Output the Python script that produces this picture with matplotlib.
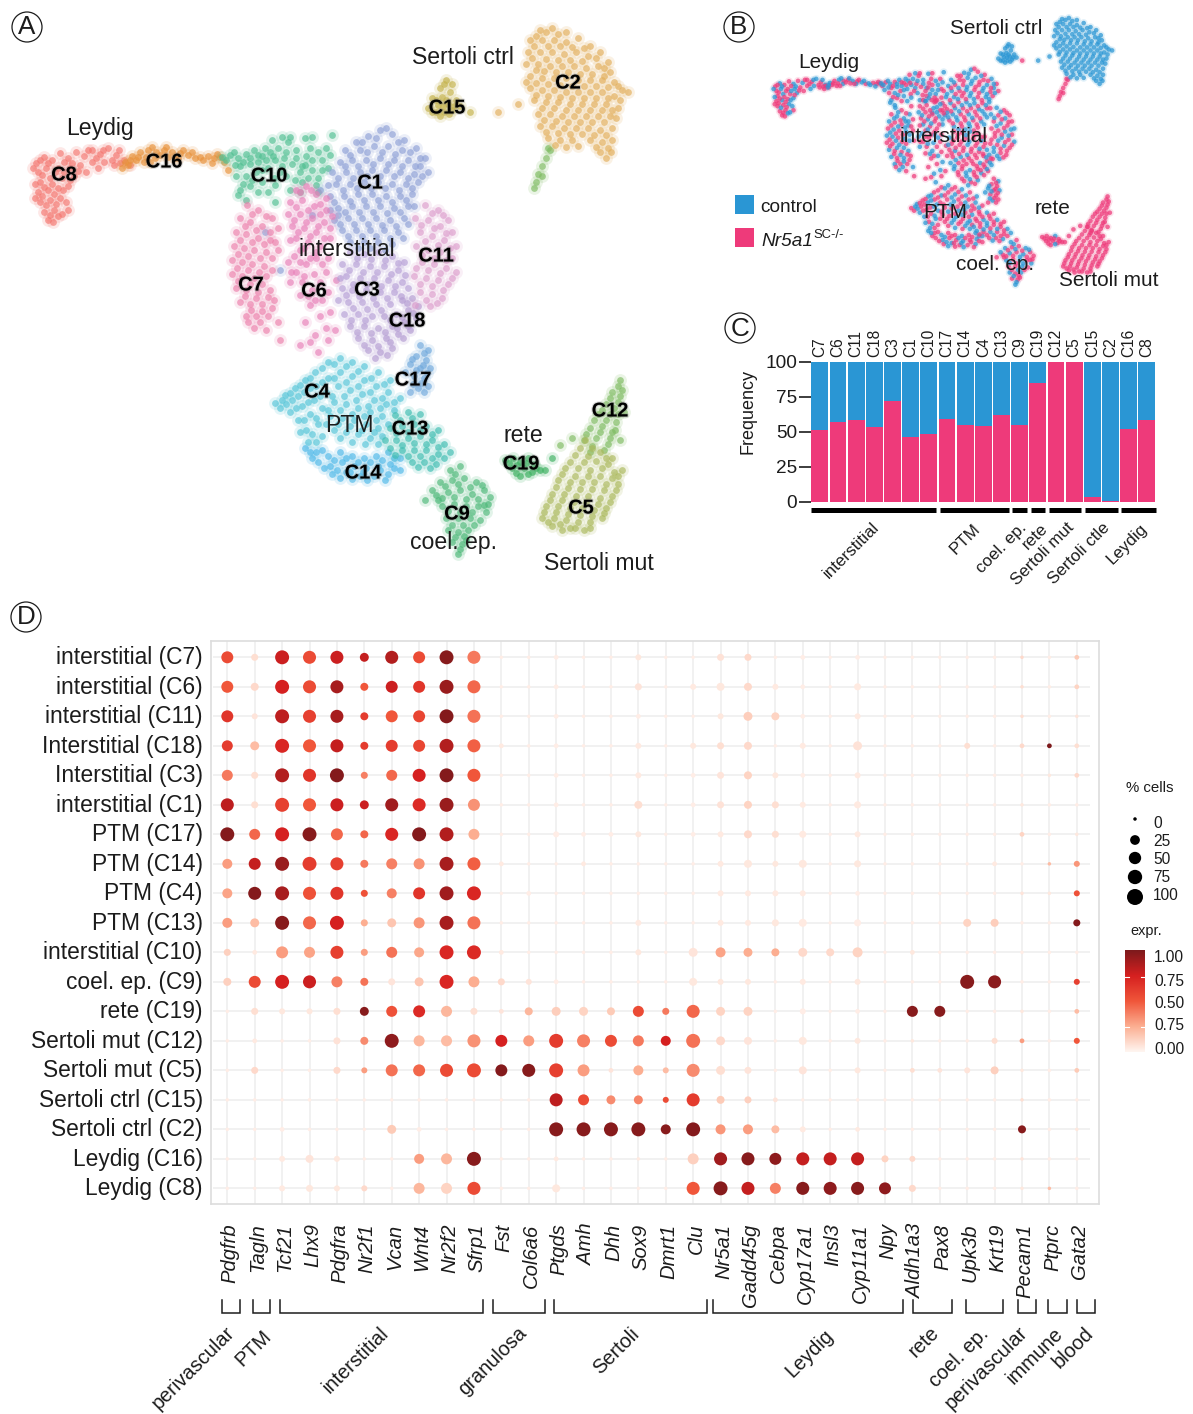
import numpy as np
import matplotlib
matplotlib.use('Agg')
import matplotlib.pyplot as plt
import matplotlib.patheffects as pe
from matplotlib.colors import LinearSegmentedColormap
from matplotlib.patches import Circle, Rectangle
from matplotlib.transforms import ScaledTranslation

plt.rcParams['font.family'] = ['Liberation Sans', 'DejaVu Sans']

W, H = 1193, 1414
BLUE = '#2a96d4'
PINK = '#ee3a7a'
INK = '#1c1c1c'

# umap points
c8 = [(36,163),(44,157),(52,160),(60,153),(68,158),(76,152),(84,156),(92,150),(100,154),(108,148),(116,155),(124,160),(130,165),(38,172),(46,168),(58,168),(70,168),(80,165),(92,162),(104,162),(114,165),(40,182),(50,178),(62,178),(74,176),(86,172),(38,192),(48,190),(58,188),(68,186),(40,202),(50,200),(60,198),(44,212),(54,210),(66,202),(48,220),(58,216),(68,210),(42,196),
      (33,168),(40,160),(48,163),(55,172),(64,162),(72,163),(88,150),(96,158),(103,150),(112,160),(119,150),(42,175),(52,184),(64,172),(78,171),(35,184),(44,187),(54,194),(63,190),(35,198),(46,205),(56,204),(50,215),(62,214),(53,222),(70,180),(98,168),(120,163)]
c16 = [(125,162),(132,156),(140,152),(148,150),(156,152),(164,150),(172,152),(180,153),(188,155),(195,158),(128,165),(136,160),(146,157),(155,158),(168,157),(178,158),(122,168),(200,157),(208,156),(214,158),(212,163),(220,157),(228,170),(224,162),
       (130,160),(138,157),(144,162),(152,147),(160,155),(166,147),(175,158),(183,150),(192,152),(150,162),(203,160),(217,154)]
c10 = [(222,157),(230,155),(238,158),(246,154),(254,150),(262,156),(270,152),(278,148),(272,140),(282,137),(290,137),(305,138),(312,137),(332,135),(240,166),(250,164),(258,162),(266,160),(275,160),(284,158),(296,158),(306,156),(318,152),(326,148),(246,176),(256,172),(268,168),(282,166),(292,164),(302,166),(312,160),(240,190),(250,186),(262,182),(274,178),(286,176),(300,172),(312,170),(322,160),(236,176),(246,200),(275,202),(290,190),(302,182),(318,178),(328,168),(300,192),(318,192),
       (226,160),(234,152),(243,162),(250,158),(258,155),(265,148),(273,156),(286,152),(280,172),(262,170),(252,180),(243,184),(238,195),(258,192),(296,150),(310,148),(308,178),(295,180),(322,170),(330,155),(288,142),(268,192),(305,165),(235,165),(316,185),(275,185)]
c1 = [(380,130),(392,134),(368,136),(404,140),(356,142),(345,150),(360,150),(374,146),(388,146),(402,150),(416,148),(425,158),(340,162),(352,160),(366,160),(380,158),(394,160),(408,160),(420,166),(332,172),(346,172),(360,172),(372,170),(386,170),(400,172),(414,174),(428,172),(336,184),(350,184),(364,182),(378,182),(392,184),(406,184),(418,182),(330,196),(344,196),(358,194),(372,194),(386,196),(400,196),(412,194),(338,208),(352,206),(366,206),(380,206),(394,208),(408,206),(334,220),(348,218),(362,218),(376,218),(390,220),(404,218),(342,230),(356,230),(370,230),(384,230),(398,232),(350,242),(364,242),(378,242),(392,244),(312,215),(320,190),(265,232),(280,270),
      (376,138),(386,128),(398,142),(362,142),(350,155),(367,152),(382,152),(395,154),(410,152),(420,158),(345,166),(358,166),(373,164),(388,164),(402,166),(415,166),(338,178),(353,178),(367,176),(380,176),(394,176),(408,178),(422,176),(343,190),(357,188),(371,188),(385,188),(399,190),(412,188),(334,202),(350,201),(364,200),(378,200),(392,202),(406,200),(345,212),(359,212),(373,212),(387,213),(400,212),(414,206),(340,224),(354,224),(368,224),(382,225),(396,226),(408,224),(348,236),(362,236),(376,236),(390,238),(403,238),(338,215),(328,185),(370,248),(385,250),(358,248),(330,210)]
c6 = [(296,190),(306,186),(316,194),(326,198),(290,202),(302,200),(314,206),(326,210),(288,214),(300,214),(312,218),(324,222),(292,226),(304,228),(316,232),(296,238),(308,242),(320,246),(330,238),(300,250),(288,262),(296,272),(306,264),(316,258),(328,258),(290,282),(302,282),(314,274),(326,272),(300,295),(312,290),(336,280),(322,300),(310,305),(320,316),(330,312),(305,322),(315,335),(328,340),(318,352),(335,330),(300,345),
      (300,192),(311,190),(320,204),(296,207),(308,210),(320,214),(332,216),(294,220),(306,222),(318,226),(330,228),(298,232),(310,236),(324,238),(290,240),(304,248),(316,252),(294,256),(310,258),(322,264),(300,262),(291,272),(304,276),(320,282),(308,296),(328,292),(315,300),(326,328),(310,342)]
c7 = [(247,205),(258,210),(272,218),(240,218),(250,222),(262,226),(278,228),(236,232),(246,234),(258,238),(270,240),(234,246),(244,248),(254,250),(266,252),(278,250),(232,260),(242,262),(252,264),(264,266),(232,274),(242,276),(254,278),(266,276),(236,288),(246,290),(258,292),(270,290),(240,302),(250,304),(262,304),(274,300),(246,316),(256,316),(268,316),(254,328),(266,330),(278,322),(280,340),
      (252,214),(266,216),(245,226),(256,230),(270,232),(240,240),(252,242),(264,244),(275,242),(238,254),(248,256),(260,258),(272,258),(237,268),(248,270),(259,272),(272,270),(238,281),(250,284),(262,284),(245,296),(256,298),(268,297),(251,310),(262,311),(248,322),(260,322),(272,308)]
c3 = [(350,252),(364,254),(378,252),(392,256),(404,262),(342,264),(356,264),(370,266),(384,266),(398,270),(346,276),(360,278),(374,278),(388,280),(402,282),(352,290),(366,290),(380,292),(394,292),(408,288),(342,288),(348,302),(362,302),(376,304),(390,304),(344,314),(358,314),(372,316),
      (357,258),(371,259),(385,260),(398,263),(349,270),(363,272),(377,272),(391,274),(405,275),(340,278),(353,284),(367,284),(381,286),(395,286),(346,295),(359,296),(373,298),(387,298),(401,296),(353,308),(367,309),(381,310),(338,300),(351,320),(365,320)]
c18 = [(402,300),(412,298),(384,316),(396,314),(408,310),(418,306),(350,326),(364,326),(378,328),(392,326),(404,322),(416,318),(358,338),(372,340),(386,338),(398,334),(368,350),(380,352),(392,348),(410,330),
       (407,303),(390,320),(402,317),(413,313),(357,332),(371,333),(385,332),(397,328),(408,326),(364,345),(378,346),(390,342),(403,338),(375,358),(387,355)]
c11 = [(425,205),(438,210),(448,220),(415,218),(428,220),(440,226),(452,232),(420,232),(432,236),(444,240),(456,246),(416,246),(428,250),(440,252),(452,258),(422,262),(434,264),(446,268),(456,272),(414,276),(426,278),(438,280),(448,284),(420,292),(432,294),(442,298),(430,306),(415,305),
       (432,213),(443,215),(421,225),(434,228),(446,233),(425,241),(438,245),(450,248),(422,255),(434,258),(446,260),(416,268),(428,270),(440,273),(452,278),(420,284),(432,286),(443,290),(426,300),(437,303)]
c17 = [(420,345),(428,350),(416,356),(426,360),(410,364),(420,368),(430,368),(414,376),(424,378),(418,388),(428,386),(410,392),(405,372),
       (424,353),(412,359),(423,365),(416,370),(427,373),(421,383),(413,384),(424,392)]
c4 = [(275,403),(285,395),(295,388),(305,380),(315,372),(328,362),(340,358),(352,362),(364,366),(378,372),(390,380),(280,408),(292,400),(304,392),(316,386),(328,378),(340,372),(352,376),(364,380),(376,386),(388,392),(400,398),(290,412),(302,406),(314,400),(326,392),(338,386),(350,390),(362,394),(374,400),(386,404),(298,420),(310,414),(322,408),(334,402),(346,404),(358,408),(370,412),(382,416),(306,430),(318,424),(330,416),(342,418),(354,420),(366,424),(378,428),(394,410),(308,442),(322,436),(334,430),(346,432),(358,434),(370,438),(382,436),
      (282,400),(290,393),(300,385),(310,378),(322,368),(334,364),(346,366),(358,371),(371,378),(384,384),(286,404),(298,396),(310,388),(322,382),(334,378),(346,382),(358,386),(370,392),(382,398),(394,402),(296,408),(308,402),(320,396),(332,396),(344,396),(356,400),(368,406),(380,408),(304,420),(316,418),(328,410),(340,410),(352,414),(364,416),(376,420),(312,434),(326,424),(338,424),(350,426),(362,430),(374,432),(388,424),(300,432),(316,442),(340,438),(352,442),(365,444),(378,444)]
c14 = [(305,448),(316,452),(328,456),(340,452),(352,456),(364,458),(376,456),(388,452),(318,462),(330,466),(342,462),(354,466),(366,468),(378,466),(390,464),(332,474),(346,472),(360,476),(374,476),(388,474),(400,470),(400,458),(312,458),
       (310,452),(322,450),(334,460),(346,458),(358,462),(370,462),(382,460),(394,458),(324,468),(337,470),(350,472),(363,472),(380,470),(394,468),(367,480),(352,479),(340,478),(385,480)]
c13 = [(395,415),(408,412),(420,414),(390,428),(402,426),(414,424),(426,426),(438,430),(396,440),(408,438),(420,436),(432,440),(444,444),(402,450),(414,450),(426,450),(438,454),(450,452),(412,462),(424,462),(436,464),(395,455),(385,440),
       (400,420),(412,418),(396,433),(408,432),(420,430),(432,434),(402,445),(414,443),(426,444),(438,447),(408,456),(420,456),(432,458),(444,458),(418,467),(430,468),(390,448)]
c9 = [(450,470),(460,466),(440,482),(452,480),(464,478),(476,482),(436,495),(448,492),(460,490),(472,494),(484,490),(490,497),(442,506),(454,504),(466,506),(478,506),(486,512),(446,518),(458,518),(470,518),(480,520),(448,530),(458,532),(468,530),(452,542),(462,544),(458,554),(466,540),(432,490),(425,500),
      (455,474),(445,486),(458,484),(470,487),(482,485),(442,498),(454,497),(466,499),(478,499),(448,511),(460,512),(472,512),(484,505),(452,525),(463,525),(474,525),(455,537),(464,536),(460,549),(438,500),(488,504)]
c19 = [(505,460),(513,458),(520,462),(528,458),(534,464),(540,470),(512,468),(524,468),(532,472),(520,476),(552,458),(545,470),
       (509,463),(517,465),(526,463),(536,468),(516,473),(528,474)]
c12 = [(620,380),(622,390),(612,392),(606,404),(618,402),(624,412),(598,414),(610,414),(616,422),(590,428),(602,426),(612,432),(584,440),(596,438),(608,444),(620,440),(572,438),(560,445),(590,452),(550,150),(546,158),(542,166),(538,174),(536,182),(534,188),(548,148),(542,176),
       (618,386),(610,398),(620,396),(602,410),(614,408),(594,420),(606,420),(618,414),(586,434),(600,432),(610,438),(615,430),(592,446),(604,450)]
c5 = [(585,440),(575,455),(588,456),(600,452),(612,458),(622,470),(565,468),(578,468),(590,470),(602,468),(614,472),(558,480),(570,482),(582,482),(594,482),(606,484),(618,484),(552,494),(564,494),(576,496),(588,496),(600,498),(612,496),(546,506),(558,506),(570,508),(582,508),(594,510),(606,508),(542,518),(554,518),(566,520),(578,522),(590,522),(602,518),(552,526),(570,528),(584,530),
      (580,448),(592,448),(606,458),(570,462),(584,462),(596,461),(608,464),(618,476),(562,474),(575,476),(588,476),(600,476),(612,478),(556,487),(568,488),(580,489),(592,489),(604,490),(616,490),(550,500),(562,500),(574,502),(586,502),(598,504),(610,502),(544,512),(556,512),(568,514),(580,515),(592,516),(604,513),(548,522),(560,524),(575,528),(590,528),(562,530)]
c15 = [(446,80),(452,84),(440,88),(450,92),(442,97),(432,98),(438,105),(448,104),(456,100),(428,108),(436,112),(444,112),(452,110),(460,106),(470,112),
       (444,84),(446,100),(436,100),(443,106),(454,106),(432,112),(440,116),(449,114)]
c2 = [(540,30),(552,28),(566,32),(530,40),(542,40),(554,40),(566,42),(578,38),(590,46),(528,52),(540,52),(552,52),(564,54),(576,52),(588,56),(600,52),(608,62),(526,64),(538,64),(550,66),(562,66),(574,66),(586,68),(598,66),(610,72),(530,76),(542,78),(554,78),(566,78),(578,80),(590,80),(602,80),(614,82),(622,90),(530,88),(542,90),(554,90),(566,92),(578,92),(590,92),(602,92),(614,96),(628,92),(534,100),(546,102),(558,102),(570,104),(582,104),(594,104),(606,104),(618,108),(538,114),(550,114),(562,116),(574,116),(586,116),(598,116),(610,116),(540,126),(552,126),(564,128),(576,128),(588,128),(600,130),(612,128),(548,138),(560,140),(572,140),(590,140),(602,142),(612,140),(600,152),(606,158),(518,104),(498,112),
      (546,32),(558,34),(536,36),(548,46),(560,46),(572,47),(584,48),(534,46),(596,58),(532,58),(546,59),(558,60),(570,60),(582,61),(604,68),(544,71),(556,72),(568,72),(580,74),(592,74),(536,70),(604,76),(526,82),(536,83),(548,84),(560,85),(572,86),(584,86),(596,86),(608,87),(618,86),(536,95),(548,96),(560,97),(572,98),(584,98),(596,98),(608,98),(620,100),(542,108),(554,108),(566,110),(578,110),(590,110),(602,110),(612,110),(544,120),(556,121),(568,122),(580,122),(592,122),(604,122),(616,118),(546,132),(558,133),(570,134),(582,134),(594,135),(606,135),(555,145),(566,147),(578,146),(596,147),(608,148),(611,152)]

# m = Nr5a1 mutant cell, c = control cell, read in turn along the points above
c8_cond = 'mcmmcmcmmcmcmmcmcmmcmmcmcmmcmcmmcmmcmcmmcmcm'
c16_cond = 'mcmcmmcmcmcmmcmcmcmmcmcmcm'
c10_cond = 'cmcmcmccmcmcmcmccmcmcmcmcmccmcmcmcmcmccmcmcmcmcmccm'
c1_cond = 'cmcmmcmccmcmcmmcmccmcmcmcmmccmcmcmmcmccmcmcmmcmccmcmcmcmmccmcmcmcmcmcm'
c6_cond = 'mcmcmmcmcmmcmcmcmmcmcmmcmcmcmmcmcmmcmcmcmmcmcm'
c7_cond = 'cmcmccmcmmcmcmcmccmcmmcmcmmccmcmcmmcmcmcm'
c3_cond = 'mmcmmcmmmcmmcmmcmmmcmmcmmcmmmcmm'
c18_cond = 'mcmcmmcmcmmcmcmcmmcmcm'
c11_cond = 'cmmcmcmmcmcmmcmmcmcmmcmcmmcmcm'
c17_cond = 'mcmmcmcmmcmmcmc'
c4_cond = 'mcmcmmcmcmcmmcmcmcmmcmcmcmmcmcmcmcmmcmcmcmmcmcmcmmcmcmcm'
c14_cond = 'cmcmmcmcmcmmcmcmcmmcmcmcm'
c13_cond = 'mcmmcmcmmcmmcmcmmcmmcmcmm'
c9_cond = 'cmcmmcmcmcmmcmcmcmmcmcmcmmcmcmcm'
c19_cond = 'mmmcmmmmmmmmmm'
c12_cond = 'mmmmmmmmmmmmmmmmmmmmmmmmmmmmm'
c5_cond = 'mmmmmmmmmmmmmmmmmmmmmmmmmmmmmmmmmmmmmmmm'
c15_cond = 'ccccccccccccccmcc'
c2_cond = 'ccccccccccccccccccccccccccccccccccccccccccccccccccccccccccccccccccccccccccccc'

cluster_points = [c8, c16, c10, c1, c6, c7, c3, c18, c11, c17, c4, c14, c13, c9, c19, c12, c5, c15, c2]
cluster_conds = [c8_cond, c16_cond, c10_cond, c1_cond, c6_cond, c7_cond, c3_cond, c18_cond, c11_cond, c17_cond, c4_cond, c14_cond, c13_cond, c9_cond, c19_cond, c12_cond, c5_cond, c15_cond, c2_cond]
cluster_colors = ['#f4766f', '#e8913a', '#4fbf91', '#8d9fd6', '#e87fb8', '#ec7fab', '#b59ed6', '#b39bd2', '#dc9ccc', '#6fa8dc', '#55c5d8', '#4db8e8', '#3cbcb0', '#4cb878', '#3cb060', '#7dbb60', '#aab85a', '#c4b24a', '#e2ae5a']

# panel C
freq_clusters = ['C7', 'C6', 'C11', 'C18', 'C3', 'C1', 'C10', 'C17', 'C14', 'C4', 'C13', 'C9', 'C19', 'C12', 'C5', 'C15', 'C2', 'C16', 'C8']
freq_mutant = [51, 57, 58, 53, 72, 46, 48, 59, 55, 54, 62, 55, 85, 100, 100, 3, 0.5, 52, 58]
freq_group_first = [0, 7, 11, 12, 13, 15, 17]
freq_group_last = [6, 10, 11, 12, 14, 16, 18]

# panel D
row_labels = ['interstitial (C7)', 'interstitial (C6)', 'interstitial (C11)', 'Interstitial (C18)', 'Interstitial (C3)', 'interstitial (C1)', 'PTM (C17)', 'PTM (C14)', 'PTM (C4)', 'PTM (C13)', 'interstitial (C10)', 'coel. ep. (C9)', 'rete (C19)', 'Sertoli mut (C12)', 'Sertoli mut (C5)', 'Sertoli ctrl (C15)', 'Sertoli ctrl (C2)', 'Leydig (C16)', 'Leydig (C8)']
genes = ['Pdgfrb', 'Tagln', 'Tcf21', 'Lhx9', 'Pdgfra', 'Nr2f1', 'Vcan', 'Wnt4', 'Nr2f2', 'Sfrp1', 'Fst', 'Col6a6', 'Ptgds', 'Amh', 'Dhh', 'Sox9', 'Dmrt1', 'Clu', 'Nr5a1', 'Gadd45g', 'Cebpa', 'Cyp17a1', 'Insl3', 'Cyp11a1', 'Npy', 'Aldh1a3', 'Pax8', 'Upk3b', 'Krt19', 'Pecam1', 'Ptprc', 'Gata2']

pct = [
    [46,8,70,58,58,19,58,46,70,58,0,0,1,0,0,4,0,0,8,8,0,1,0,1,0,0,0,0,0,0,0,1],
    [46,13,70,58,58,13,46,46,70,58,0,0,1,0,0,8,0,4,13,13,4,1,0,8,0,0,0,0,0,0,0,1],
    [46,4,70,58,58,13,46,46,70,58,0,0,1,0,0,1,0,0,4,19,13,1,0,4,0,0,0,0,0,0,0,0],
    [36,19,70,58,58,13,46,46,70,58,1,0,1,0,0,4,0,4,8,13,0,4,0,19,0,0,0,4,0,1,1,1],
    [36,8,70,58,70,8,36,58,70,58,0,0,1,0,0,4,0,1,8,13,4,1,0,4,0,0,0,0,0,0,0,1],
    [58,8,70,58,58,19,58,58,70,46,0,0,1,0,0,13,0,1,8,13,8,4,0,8,0,0,0,0,0,0,0,0],
    [70,36,70,70,46,13,58,70,70,36,0,0,4,1,1,4,0,1,4,13,8,8,0,4,0,0,0,0,0,1,0,0],
    [27,46,70,70,58,13,36,36,70,58,1,0,0,1,0,0,0,0,4,13,4,13,0,8,0,0,0,0,1,0,0,4],
    [27,58,70,58,58,8,27,46,70,70,0,1,0,0,0,0,0,0,4,4,4,4,0,1,0,0,0,0,0,0,0,4],
    [27,19,70,58,70,8,19,36,70,58,0,0,0,0,0,4,0,0,4,4,8,13,0,8,0,0,0,13,13,0,0,8],
    [8,1,46,36,58,8,36,27,70,70,1,0,0,0,0,4,0,19,27,19,13,19,13,27,0,1,0,0,0,0,0,0],
    [13,46,70,58,36,13,8,19,70,36,8,4,1,0,0,0,0,13,4,4,0,4,0,4,0,0,0,70,58,0,0,4],
    [0,8,4,4,8,19,36,46,36,8,1,13,19,19,13,36,8,58,19,19,0,4,0,1,0,36,36,0,0,0,0,1],
    [0,1,0,0,8,13,70,36,36,58,46,36,70,58,46,36,27,70,19,13,0,13,0,4,0,0,0,0,4,1,0,4],
    [0,8,0,0,8,4,46,46,58,70,46,58,70,46,1,27,4,58,19,8,0,13,0,4,0,1,1,4,13,0,0,1],
    [0,0,0,0,0,0,0,0,0,0,0,0,58,36,19,19,4,58,13,8,1,0,0,0,0,0,0,0,0,0,0,0],
    [0,0,1,0,0,0,19,1,0,0,0,0,70,70,70,70,27,70,27,27,13,4,0,1,0,0,0,0,0,13,0,0],
    [0,0,4,13,4,0,0,27,36,70,0,0,1,0,0,0,0,36,58,58,46,58,58,58,8,4,0,0,0,0,0,0],
    [0,0,4,8,4,4,0,36,36,58,0,0,13,0,0,0,0,58,70,58,36,58,58,58,46,8,0,0,0,0,0,0],
]
expr = [
    [.55,.08,.78,.55,.78,.8,.85,.55,.97,.4,.03,.03,.03,.03,.03,.05,.03,.03,.07,.1,.03,.03,.03,.03,.03,.03,.03,.03,.03,.1,.03,.15],
    [.5,.1,.75,.55,.88,.5,.78,.65,.92,.45,.03,.03,.03,.03,.03,.06,.03,.04,.05,.1,.04,.03,.03,.04,.03,.03,.03,.03,.03,.08,.03,.12],
    [.65,.06,.82,.6,.88,.62,.5,.58,.98,.42,.03,.03,.03,.03,.03,.03,.03,.03,.05,.14,.12,.03,.03,.04,.03,.03,.03,.03,.03,.08,.03,.06],
    [.62,.2,.72,.5,.8,.62,.62,.58,.85,.47,.04,.03,.03,.03,.03,.04,.03,.05,.08,.1,.03,.04,.03,.07,.03,.03,.03,.08,.03,.1,1.0,.08],
    [.4,.08,.85,.65,.98,.38,.45,.75,.98,.5,.03,.03,.03,.03,.03,.04,.03,.03,.06,.12,.05,.03,.03,.04,.03,.03,.03,.03,.03,.03,.05,.1],
    [.82,.08,.6,.5,.78,.78,.9,.7,.92,.33,.03,.03,.03,.03,.03,.08,.03,.03,.07,.12,.08,.04,.03,.04,.03,.03,.03,.03,.03,.05,.03,.03],
    [.98,.45,.75,.97,.45,.45,.72,.98,.85,.25,.03,.03,.03,.03,.03,.05,.03,.03,.04,.1,.08,.04,.03,.04,.03,.03,.03,.03,.03,.12,.03,.05],
    [.3,.8,.92,.62,.6,.4,.38,.33,.88,.48,.04,.03,.03,.04,.03,.03,.03,.03,.04,.05,.05,.05,.03,.05,.03,.03,.03,.03,.04,.03,.2,.32],
    [.28,.98,.88,.52,.65,.52,.38,.65,.9,.72,.03,.03,.03,.03,.03,.03,.03,.03,.04,.04,.04,.04,.03,.03,.03,.03,.03,.03,.03,.06,.05,.52],
    [.3,.2,.97,.45,.75,.25,.17,.32,.88,.42,.03,.03,.03,.03,.03,.04,.03,.03,.04,.04,.05,.04,.03,.03,.03,.03,.03,.12,.14,.03,.03,.98],
    [.13,.04,.3,.28,.6,.3,.42,.27,.72,.7,.04,.03,.03,.03,.03,.05,.03,.06,.28,.25,.25,.1,.1,.12,.03,.05,.03,.03,.03,.03,.03,.03],
    [.13,.55,.75,.78,.38,.42,.06,.17,.72,.25,.1,.06,.03,.03,.03,.03,.03,.05,.05,.05,.03,.04,.03,.05,.03,.03,.03,.97,.96,.03,.03,.6],
    [.03,.08,.05,.05,.08,.97,.52,.7,.22,.08,.06,.22,.14,.12,.15,.55,.4,.45,.12,.12,.03,.03,.03,.03,.03,.97,.97,.03,.03,.05,.03,.2],
    [.03,.04,.03,.03,.07,.35,.95,.22,.2,.33,.75,.3,.62,.38,.55,.4,.75,.42,.1,.06,.03,.05,.03,.05,.03,.05,.03,.03,.08,.3,.03,.5],
    [.03,.1,.03,.03,.1,.3,.42,.45,.55,.55,.98,.97,.6,.3,.06,.25,.2,.35,.08,.06,.03,.06,.03,.05,.03,.08,.06,.06,.13,.05,.03,.15],
    [.03,.03,.03,.03,.03,.03,.03,.03,.03,.03,.03,.03,.82,.55,.35,.37,.55,.62,.15,.13,.06,.03,.03,.03,.03,.03,.03,.03,.03,.08,.03,.03],
    [.03,.03,.03,.03,.03,.03,.15,.03,.03,.03,.03,.03,.97,.97,.97,.97,.97,.98,.32,.3,.2,.04,.03,.04,.03,.03,.03,.03,.03,.97,.03,.05],
    [.03,.03,.04,.06,.05,.03,.03,.3,.22,.97,.03,.03,.04,.03,.03,.04,.03,.13,.9,.97,.95,.8,.8,.8,.12,.1,.03,.03,.03,.06,.03,.03],
    [.03,.03,.04,.05,.05,.1,.03,.22,.12,.55,.03,.03,.05,.03,.03,.03,.03,.5,.97,.8,.38,.97,.95,.97,.95,.1,.03,.03,.03,.05,.2,.03],
]
legend_pct = [0, 25, 50, 75, 100]
cbar_labels = ['1.00', '0.75', '0.50', '0.75', '0.00']

reds = LinearSegmentedColormap.from_list('reds', ['#fff5f0', '#fcae91', '#f0563a', '#d62020', '#7d1a1c'])


def px_axes(fig, left, top, right, bottom):
    return fig.add_axes([left / W, 1 - bottom / H, (right - left) / W, (bottom - top) / H])


def fs(px):
    return px * 0.72


def dot_area(p):
    # percent of cells to marker area, in points squared
    d = 3.5 + 12.5 * np.sqrt(np.asarray(p, dtype=float) / 100)
    return (d * 0.72) ** 2


fig = plt.figure(figsize=(W / 100, H / 100), dpi=100)

# A
ax_a = px_axes(fig, 0, 0, 700, 600)
ax_a.set_xlim(0, 700)
ax_a.set_ylim(600, 0)
ax_a.axis('off')
for pts, col in zip(cluster_points, cluster_colors):
    arr = np.array(pts)
    ax_a.scatter(arr[:, 0], arr[:, 1], s=85, c=col, linewidths=0, alpha=0.16)
    ax_a.scatter(arr[:, 0], arr[:, 1], s=24, c=col, linewidths=0, alpha=0.65)

# B, same embedding on a squeezed scale
ax_b = px_axes(fig, 754.8, 3.8, 1153.1, 308)
ax_b.set_xlim(0, 700)
ax_b.set_ylim(600, 0)
ax_b.axis('off')
for pts, cond in zip(cluster_points, cluster_conds):
    arr = np.array(pts)
    long_cond = cond * 3
    cols = [PINK if c == 'm' else BLUE for c in long_cond[:len(arr)]]
    ax_b.scatter(arr[:, 0], arr[:, 1], s=32, c=cols, linewidths=0, alpha=0.14)
    ax_b.scatter(arr[:, 0], arr[:, 1], s=11, c=cols, linewidths=0, alpha=0.72)

# C
ax_c = px_axes(fig, 810.7, 361.5, 1156, 501.5)
x = np.arange(len(freq_clusters))
mut = np.array(freq_mutant)
ax_c.bar(x, mut, width=0.93, color=PINK, linewidth=0)
ax_c.bar(x, 100 - mut, bottom=mut, width=0.93, color=BLUE, linewidth=0)
ax_c.set_xlim(-0.5, 18.5)
ax_c.set_ylim(0, 100)
for s in ax_c.spines.values():
    s.set_visible(False)
ax_c.set_yticks([0, 25, 50, 75, 100])
ax_c.tick_params(axis='y', length=8.6, width=1.2, labelsize=fs(19), pad=1, colors=INK)
ax_c.set_xticks(x)
ax_c.set_xticklabels(freq_clusters, rotation=90, fontsize=fs(15.5), color=INK)
ax_c.tick_params(axis='x', length=0, labelbottom=False, labeltop=True, pad=3)
for a, b in zip(freq_group_first, freq_group_last):
    left = a - 0.4 if a > 0 else -0.5
    right = b + 0.4 if b < 18 else 18.5
    ax_c.plot([left, right], [-6.3, -6.3], color='black', lw=3.6, clip_on=False, solid_capstyle='butt')

# D
ax_d = px_axes(fig, 211, 640.7, 1099, 1204)
ax_d.set_xlim(-0.595, 31.81)
ax_d.set_ylim(18.53, -0.563)
ax_d.hlines(np.arange(len(row_labels)), -0.52, 31.49, color='#eeeeee', lw=1.1, zorder=1)
ax_d.vlines(np.arange(len(genes)), -0.563, 18.53, color='#eeeeee', lw=1.1, zorder=1)
rr, cc = np.meshgrid(np.arange(len(row_labels)), np.arange(len(genes)), indexing='ij')
ax_d.scatter(cc.ravel(), rr.ravel(), s=dot_area(np.array(pct).ravel()), c=np.array(expr).ravel(),
             cmap=reds, vmin=0, vmax=1, linewidths=0, zorder=2)
for s in ax_d.spines.values():
    s.set_color('#dddddd')
    s.set_linewidth(1.2)
ax_d.set_yticks(np.arange(len(row_labels)))
ax_d.set_yticklabels(row_labels, fontsize=fs(22.7), color=INK)
ax_d.set_xticks(np.arange(len(genes)))
ax_d.set_xticklabels(genes, rotation=90, style='italic', fontsize=fs(20.3), color=INK)
ax_d.tick_params(axis='both', length=0)
ax_d.tick_params(axis='y', pad=6)
ax_d.tick_params(axis='x', pad=14)
# labels sit a little off the grid in the reference
for lab in ax_d.get_yticklabels():
    lab.set_transform(lab.get_transform() + ScaledTranslation(0, 2 / 100, fig.dpi_scale_trans))
for lab in ax_d.get_xticklabels():
    lab.set_transform(lab.get_transform() + ScaledTranslation(3 / 100, 0, fig.dpi_scale_trans))

# colour bar
ax_bar = px_axes(fig, 1125, 950, 1145, 1052)
ax_bar.imshow(np.linspace(1, 0, 200).reshape(-1, 1), cmap=reds, aspect='auto', vmin=0, vmax=1)
ax_bar.axis('off')

# everything else is placed in image pixels
ov = fig.add_axes([0, 0, 1, 1])
ov.set_xlim(0, W)
ov.set_ylim(H, 0)
ov.axis('off')
ov.patch.set_alpha(0)

for letter, lx, ly in [('A', 27, 27), ('B', 739, 27), ('C', 740, 328), ('D', 26, 617)]:
    ov.add_patch(Circle((lx, ly), 15, facecolor='white', edgecolor=INK, lw=0.9))
    ov.text(lx, ly + 0.5, letter, fontsize=fs(26), ha='center', va='center', color=INK)

for txt, tx, ty in [('Leydig', 100, 129), ('Sertoli ctrl', 463, 58), ('interstitial', 347, 250), ('PTM', 349, 426), ('rete', 523, 436), ('coel. ep.', 453, 543), ('Sertoli mut', 599, 564)]:
    ov.text(tx, ty, txt, fontsize=fs(23), ha='center', va='center', color=INK)
for txt, tx, ty in [('Sertoli ctrl', 996, 29), ('Leydig', 829, 62), ('interstitial', 944, 137), ('PTM', 945, 212), ('rete', 1053, 209), ('coel. ep.', 995, 265), ('Sertoli mut', 1109, 280)]:
    ov.text(tx, ty, txt, fontsize=fs(20.8), ha='center', va='center', color=INK)

shadow = [pe.withStroke(linewidth=1.6, foreground='#777777', alpha=0.3)]
for txt, tx, ty in [('C8', 64, 175), ('C16', 164, 162), ('C10', 269, 176), ('C1', 370, 183), ('C11', 436, 256), ('C7', 251, 285), ('C6', 314, 291), ('C3', 367, 290), ('C18', 407, 321), ('C17', 413, 380),
                    ('C4', 317, 392), ('C13', 410, 429), ('C14', 363, 473), ('C9', 457, 514), ('C19', 521, 464), ('C12', 610, 411), ('C5', 581, 508), ('C2', 568, 83), ('C15', 447, 108)]:
    ov.text(tx, ty, txt, fontsize=fs(20), fontweight='bold', ha='center', va='center', color='black', path_effects=shadow)

# legend of panel B
ov.add_patch(Rectangle((735, 195), 19, 19, facecolor=BLUE, edgecolor='none'))
ov.add_patch(Rectangle((735, 228), 19, 19, facecolor=PINK, edgecolor='none'))
ov.text(760, 207, 'control', fontsize=fs(19), ha='left', va='center', color=INK)
ov.text(761, 241, 'Nr5a1', fontsize=fs(19), style='italic', ha='left', va='center', color=INK)
ov.text(813, 235, 'SC-/-', fontsize=fs(13), ha='left', va='center', color=INK)

# axis title and rotated group labels of panel C
ov.text(748, 412, 'Frequency', fontsize=fs(18), rotation=90, ha='center', va='center', color=INK)
for txt, tx, ty in [('interstitial', 877, 525), ('PTM', 978, 526), ('coel. ep.', 1024, 525), ('rete', 1045, 526), ('Sertoli mut', 1072, 525), ('Sertoli ctle', 1107, 525), ('Leydig', 1145, 526)]:
    ov.text(tx, ty, txt, fontsize=fs(17), rotation=45, rotation_mode='anchor', ha='right', va='center', color=INK)

# gene group brackets and labels of panel D
bracket_left = [222, 253, 280, 493, 554, 713, 913, 966, 1018, 1048, 1077]
bracket_right = [240, 270, 483, 545, 707, 903, 952, 1003, 1036, 1067, 1095]
for a, b in zip(bracket_left, bracket_right):
    ov.plot([a, a, b, b], [1300, 1313, 1313, 1300], color=INK, lw=1.1, solid_joinstyle='miter')

for txt, tx, ty in [('perivascular', 232, 1330), ('PTM', 268, 1333), ('interstitial', 386, 1330), ('granulosa', 524, 1330), ('Sertoli', 636, 1331), ('Leydig', 830, 1333),
                    ('rete', 936, 1330), ('coel. ep.', 986, 1331), ('perivascular', 1025, 1330), ('immune', 1060, 1331), ('blood', 1090, 1330)]:
    ov.text(tx, ty, txt, fontsize=fs(20), rotation=45, rotation_mode='anchor', ha='right', va='center', color=INK)

# size legend
ov.text(1126, 788, '% cells', fontsize=fs(15), ha='left', va='center', color=INK)
ov.scatter([1135] * 5, [819, 840, 858, 877, 897], s=dot_area(legend_pct), c='black', linewidths=0)
for lab, ty in zip(legend_pct, [823, 841, 859, 878, 896]):
    ov.text(1153, ty, str(lab), fontsize=fs(15.5), ha='left', va='center', color=INK)

# colour legend
ov.text(1130, 931, 'expr.', fontsize=fs(14.5), ha='left', va='center', color=INK)
for lab, ty in zip(cbar_labels, [958, 981, 1004, 1026, 1049]):
    ov.text(1154, ty, lab, fontsize=fs(15.5), ha='left', va='center', color=INK)
for ty in [977, 1027]:
    ov.plot([1125, 1129], [ty, ty], color='white', lw=0.8)
    ov.plot([1141, 1145], [ty, ty], color='white', lw=0.8)
ov.set_xlim(0, W)
ov.set_ylim(H, 0)

fig.savefig('out.png', dpi=100)
